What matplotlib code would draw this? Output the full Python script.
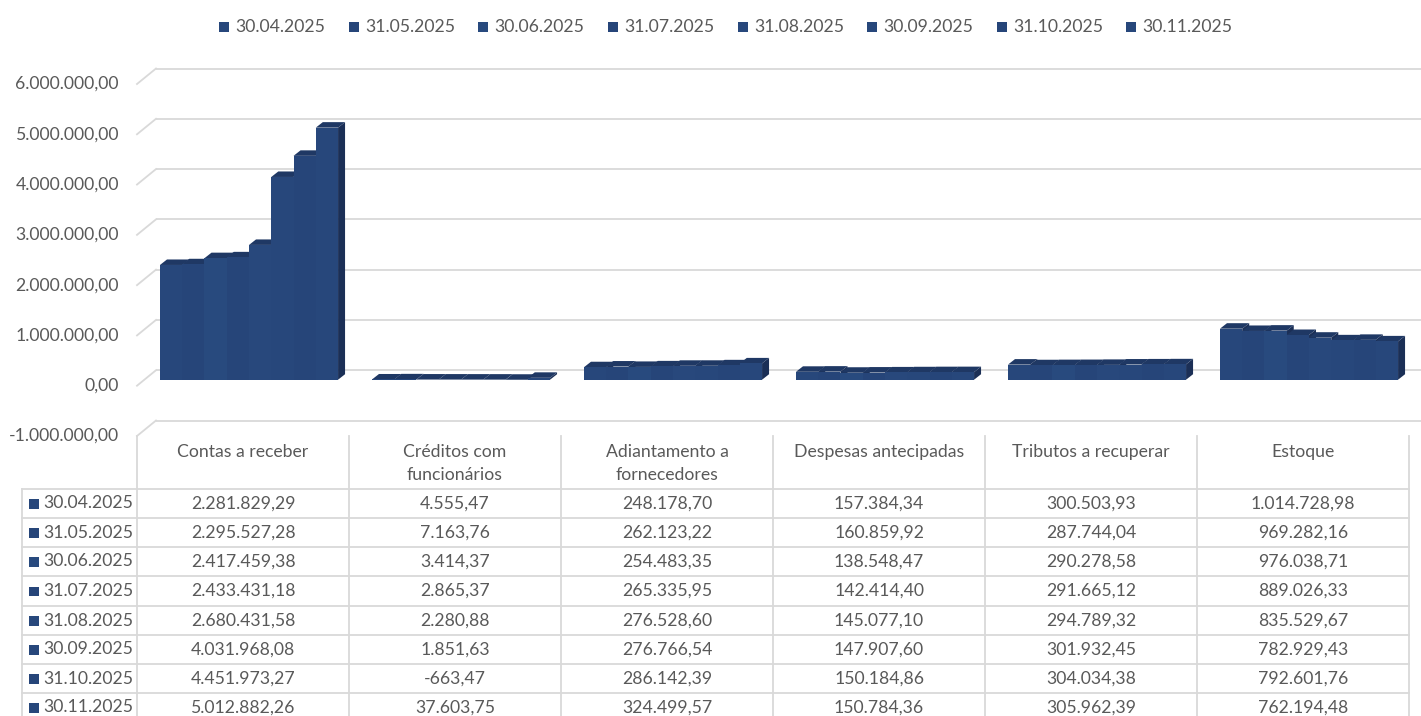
import matplotlib
matplotlib.use("Agg")
import matplotlib.pyplot as plt
import matplotlib.transforms as mtransforms
from matplotlib.patches import Polygon, Rectangle
from matplotlib.lines import Line2D

plt.rcParams['font.family'] = ['Lato', 'DejaVu Sans']

# ---- data ----
dates = ["30.04.2025", "31.05.2025", "30.06.2025", "31.07.2025",
         "31.08.2025", "30.09.2025", "31.10.2025", "30.11.2025"]
categories = ["Contas a receber", "Créditos com\nfuncionários", "Adiantamento a\nfornecedores",
              "Despesas antecipadas", "Tributos a recuperar", "Estoque"]

contas_receber = [2281829.29, 2295527.28, 2417459.38, 2433431.18,
                  2680431.58, 4031968.08, 4451973.27, 5012882.26]
creditos_func = [4555.47, 7163.76, 3414.37, 2865.37,
                 2280.88, 1851.63, -663.47, 37603.75]
adiant_fornec = [248178.70, 262123.22, 254483.35, 265335.95,
                 276528.60, 276766.54, 286142.39, 324499.57]
despesas_antec = [157384.34, 160859.92, 138548.47, 142414.40,
                  145077.10, 147907.60, 150184.86, 150784.36]
tributos_rec = [300503.93, 287744.04, 290278.58, 291665.12,
                294789.32, 301932.45, 304034.38, 305962.39]
estoque = [1014728.98, 969282.16, 976038.71, 889026.33,
           835529.67, 782929.43, 792601.76, 762194.48]
values = [contas_receber, creditos_func, adiant_fornec, despesas_antec, tributos_rec, estoque]

y_ticks = [-1000000, 0, 1000000, 2000000, 3000000, 4000000, 5000000, 6000000]

front_col = ["#27477B", "#264579", "#284A7E", "#264579", "#28487C", "#27477B", "#264579", "#27477B"]
top_col = "#1F3864"
side_col = "#1B2F56"
grid_col = "#D9D9D9"
text_col = "#595959"
fs = 12.7


def br(v):
    s = f"{v:,.2f}"
    return s.replace(",", "X").replace(".", ",").replace("X", ".")


W, H = 1421, 716
fig = plt.figure(figsize=(W / 100, H / 100), dpi=100)


def fx(px):
    return px / W


def fy(py):
    return 1 - py / H


# front plane of the 3D box
ax = fig.add_axes([fx(137), fy(436), fx(1409) - fx(137), fy(84) - fy(436)])
ax.set_xlim(-0.5, 5.5)
ax.set_ylim(-1000000, 6000000)
ax.axis('off')

back = ax.transData + mtransforms.ScaledTranslation(0.19, 0.155, fig.dpi_scale_trans)
bars_tr = ax.transData + mtransforms.ScaledTranslation(0.075, 0.06, fig.dpi_scale_trans)
labels_tr = ax.transData + mtransforms.ScaledTranslation(-0.18, 0, fig.dpi_scale_trans)

# back wall gridlines and left wall diagonals
ax.hlines(y_ticks, -0.5, 5.5, colors=grid_col, lw=1.3, transform=back, clip_on=False, zorder=0)
for v in y_ticks:
    p0 = ax.transData.transform((-0.5, v))
    p1 = back.transform((-0.5, v))
    ax.add_line(Line2D([p0[0], p1[0]], [p0[1], p1[1]], color=grid_col, lw=1.3,
                       transform=mtransforms.IdentityTransform(), clip_on=False, zorder=0))
    ax.text(-0.5, v, br(v), transform=labels_tr, ha='right', va='center',
            fontsize=fs, color=text_col)

# 3D columns
w = 0.105
ddx = 7 / 212.0
ddy = 5.5 * 7000000 / 352.0
for i, vals in enumerate(values):
    for j, h in enumerate(vals):
        x0 = i - 0.427 + j * w
        x1 = x0 + w
        side = Polygon([(x1, 0), (x1 + ddx, ddy), (x1 + ddx, h + ddy), (x1, h)],
                       closed=True, facecolor=side_col, edgecolor='none',
                       transform=bars_tr, clip_on=False, zorder=2)
        ax.add_patch(side)
        top = Polygon([(x0, h), (x1, h), (x1 + ddx, h + ddy), (x0 + ddx, h + ddy)],
                      closed=True, facecolor=top_col, edgecolor='none',
                      transform=bars_tr, clip_on=False, zorder=2)
        ax.add_patch(top)
        ax.bar(x0, h, width=w, align='edge', color=front_col[j], edgecolor='none',
               transform=bars_tr, clip_on=False, zorder=2)

# ---- legend ----
leg_x = [219, 349, 478, 608, 738, 867, 997, 1126]
for k, d in enumerate(dates):
    fig.patches.append(Rectangle((fx(leg_x[k]), fy(32)), 10 / W, 10 / H,
                                 transform=fig.transFigure, facecolor=front_col[k],
                                 edgecolor='none'))
    fig.text(fx(leg_x[k] + 16), fy(27), d, ha='left', va='center',
             fontsize=fs, color=text_col)

# ---- data table ----
col_x = [137, 349, 561, 773, 985, 1197, 1409]
row_y = [489, 518, 547, 576, 606, 635, 664, 693, 722]
for x in col_x:
    fig.add_artist(Line2D([fx(x), fx(x)], [fy(436), 0], color=grid_col, lw=1.3,
                          transform=fig.transFigure))
fig.add_artist(Line2D([fx(22), fx(22)], [fy(489), 0], color=grid_col, lw=1.3,
                      transform=fig.transFigure))
for y in row_y:
    fig.add_artist(Line2D([fx(22), fx(1409)], [fy(y), fy(y)], color=grid_col, lw=1.3,
                          transform=fig.transFigure))

for i, c in enumerate(categories):
    cx = (col_x[i] + col_x[i + 1]) / 2
    fig.text(fx(cx), fy(444), c, ha='center', va='top', fontsize=fs,
             color=text_col, linespacing=1.55)
    for j, v in enumerate(values[i]):
        cy = (row_y[j] + row_y[j + 1]) / 2
        fig.text(fx(cx), fy(cy), br(v), ha='center', va='center', fontsize=fs, color=text_col)

for j, d in enumerate(dates):
    cy = (row_y[j] + row_y[j + 1]) / 2
    fig.patches.append(Rectangle((fx(29), fy(cy + 5)), 9.5 / W, 9.5 / H,
                                 transform=fig.transFigure, facecolor=front_col[j],
                                 edgecolor='none'))
    fig.text(fx(43), fy(cy), d, ha='left', va='center', fontsize=fs, color=text_col)

fig.savefig("out.png", dpi=100)
